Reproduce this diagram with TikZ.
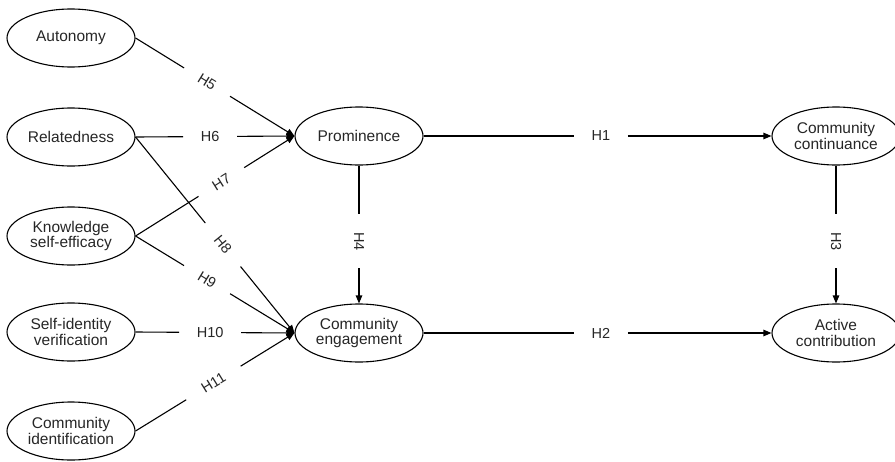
\documentclass[tikz,border=0pt]{standalone}
\usepackage{fontspec}
\setmainfont{Liberation Sans}
\usetikzlibrary{shapes.geometric,arrows.meta,calc}
\begin{document}
\begin{tikzpicture}[x=1pt,y=-1pt,
  construct/.style={ellipse,draw,line width=1.1pt,minimum width=128pt,minimum height=58pt,inner sep=0pt,align=center,font=\fontsize{15.5}{15.5}\selectfont,text=black!85},
  link/.style={line width=1.1pt},
  path/.style={link,-{Triangle[length=8pt,width=6.5pt]}},
  lab/.style={inner sep=1pt,font=\fontsize{14.5}{15}\selectfont,text=black!85}]
\useasboundingbox (0,0) rectangle (895,461);
\node[construct] (aut) at (71,38) {Autonomy};
\node[construct] (rel) at (71,137) {Relatedness};
\node[construct] (kno) at (71,236) {Knowledge\\self-efficacy};
\node[construct] (sel) at (71,332) {Self-identity\\verification};
\node[construct] (cid) at (71,431) {Community\\identification};
\node[construct] (prom) at (359,136) {Prominence};
\node[construct] (eng) at (359,333) {Community\\engagement};
\node[construct] (cont) at (836,136) {Community\\continuance};
\node[construct] (act) at (836,333) {Active\\contribution};
% #1 from, #2 to, #3 pos, #4 half gap, #5 label, #6 label name, #7 extra label options
\newcommand\hypline[7]{%
  \coordinate (#6m) at ($(#1)!#3!(#2)$);
  \path (#1) -- node[lab,pos=#3,#7] (#6) {#5} (#2);
  \draw[link] (#1) -- ($(#6m)!#4!(#1)$);
  \draw[path] ($(#6m)!#4!(#2)$) -- (#2);
}
\hypline{aut.east}{prom.west}{0.45}{27pt}{H5}{h5}{sloped}
\hypline{rel.east}{prom.west}{0.47}{27pt}{H6}{h6}{sloped}
\hypline{kno.east}{prom.west}{0.54}{27pt}{H7}{h7}{sloped}
\hypline{rel.east}{eng.west}{0.55}{28pt}{H8}{h8}{sloped}
\hypline{kno.east}{eng.west}{0.45}{27pt}{H9}{h9}{sloped}
\hypline{sel.east}{eng.west}{0.47}{31pt}{H10}{h10}{sloped}
\hypline{cid.east}{eng.west}{0.49}{32pt}{H11}{h11}{sloped}
\hypline{prom.east}{cont.west}{0.51}{27pt}{H1}{h1}{}
\hypline{eng.east}{act.west}{0.51}{27pt}{H2}{h2}{}
\hypline{prom.south}{eng.north}{0.55}{27pt}{H4}{h4}{rotate=-90}
\hypline{cont.south}{act.north}{0.55}{27pt}{H3}{h3}{rotate=-90}
\end{tikzpicture}
\end{document}
